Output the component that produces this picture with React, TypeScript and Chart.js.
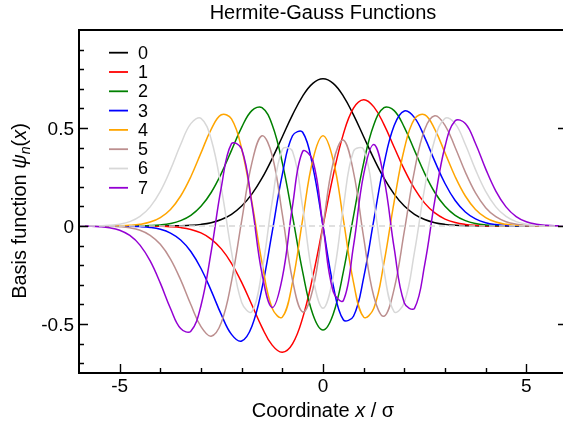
import React, { useEffect, useRef } from "react";
import { Chart, registerables } from "chart.js";

Chart.register(...registerables);

// ---------- data ----------
const xValues = [
  -6, -5.75, -5.5, -5.25, -5, -4.75, -4.5, -4.25, -4, -3.75, -3.5, -3.25, -3,
  -2.75, -2.5, -2.25, -2, -1.75, -1.5, -1.25, -1, -0.75, -0.5, -0.25, 0, 0.25,
  0.5, 0.75, 1, 1.25, 1.5, 1.75, 2, 2.25, 2.5, 2.75, 3, 3.25, 3.5, 3.75, 4, 4.25,
  4.5, 4.75, 5, 5.25, 5.5, 5.75, 6,
];

const psi0 = [
  0, 0, 0, 0, 0, 0, 0, 0.0001, 0.0003, 0.0007, 0.0016, 0.0038, 0.0083, 0.0171,
  0.033, 0.0598, 0.1017, 0.1624, 0.2439, 0.3439, 0.4556, 0.567, 0.6629, 0.728,
  0.7511, 0.728, 0.6629, 0.567, 0.4556, 0.3439, 0.2439, 0.1624, 0.1017, 0.0598,
  0.033, 0.0171, 0.0083, 0.0038, 0.0016, 0.0007, 0.0003, 0.0001, 0, 0, 0, 0, 0, 0, 0,
];
const psi1 = [
  0, 0, 0, 0, 0, -0.0001, -0.0002, -0.0005, -0.0014, -0.0035, -0.0081, -0.0176,
  -0.0354, -0.0666, -0.1167, -0.1902, -0.2875, -0.402, -0.5173, -0.6079, -0.6443,
  -0.6014, -0.4687, -0.2574, 0, 0.2574, 0.4687, 0.6014, 0.6443, 0.6079, 0.5173,
  0.402, 0.2875, 0.1902, 0.1167, 0.0666, 0.0354, 0.0176, 0.0081, 0.0035, 0.0014,
  0.0005, 0.0002, 0.0001, 0, 0, 0, 0, 0,
];
const psi2 = [
  0, 0, 0, 0, 0.0001, 0.0003, 0.0008, 0.0022, 0.0055, 0.0127, 0.0273, 0.0544,
  0.1003, 0.171, 0.2684, 0.3856, 0.5032, 0.5887, 0.6035, 0.5167, 0.3221, 0.0501,
  -0.2344, -0.4504, -0.5311, -0.4504, -0.2344, 0.0501, 0.3221, 0.5167, 0.6035,
  0.5887, 0.5032, 0.3856, 0.2684, 0.171, 0.1003, 0.0544, 0.0273, 0.0127, 0.0055,
  0.0022, 0.0008, 0.0003, 0.0001, 0, 0, 0, 0,
];
const psi3 = [
  0, 0, 0, -0.0001, -0.0004, -0.0011, -0.0029, -0.0073, -0.0169, -0.0361, -0.0714,
  -0.1299, -0.2168, -0.3296, -0.4525, -0.5531, -0.5869, -0.5129, -0.3168, -0.031,
  0.263, 0.4603, 0.4784, 0.3021, 0, -0.3021, -0.4784, -0.4603, -0.263, 0.031,
  0.3168, 0.5129, 0.5869, 0.5531, 0.4525, 0.3296, 0.2168, 0.1299, 0.0714, 0.0361,
  0.0169, 0.0073, 0.0029, 0.0011, 0.0004, 0.0001, 0, 0, 0,
];
const psi4 = [
  0, 0, 0.0001, 0.0004, 0.0013, 0.0034, 0.0086, 0.02, 0.043, 0.0847, 0.153, 0.2515,
  0.373, 0.4928, 0.5676, 0.5461, 0.3943, 0.1249, -0.1867, -0.4201, -0.465, -0.2875,
  0.0338, 0.3367, 0.46, 0.3367, 0.0338, -0.2875, -0.465, -0.4201, -0.1867, 0.1249,
  0.3943, 0.5461, 0.5676, 0.4928, 0.373, 0.2515, 0.153, 0.0847, 0.043, 0.02,
  0.0086, 0.0034, 0.0013, 0.0004, 0.0001, 0, 0,
];
const psi5 = [
  0, -0.0001, -0.0004, -0.0013, -0.0036, -0.0093, -0.0219, -0.0473, -0.0936,
  -0.1687, -0.2749, -0.4007, -0.5138, -0.5623, -0.4926, -0.2824, 0.0262, 0.3205,
  0.4604, 0.3598, 0.0588, -0.2753, -0.4386, -0.3234, 0, 0.3234, 0.4386, 0.2753,
  -0.0588, -0.3598, -0.4604, -0.3205, -0.0262, 0.2824, 0.4926, 0.5623, 0.5138,
  0.4007, 0.2749, 0.1687, 0.0936, 0.0473, 0.0219, 0.0093, 0.0036, 0.0013, 0.0004,
  0.0001, 0,
];
const psi6 = [
  0.0001, 0.0004, 0.0013, 0.0036, 0.0094, 0.0224, 0.0489, 0.0977, 0.1768, 0.2878,
  0.4158, 0.5224, 0.5495, 0.443, 0.1929, -0.1317, -0.3902, -0.4379, -0.2283,
  0.1238, 0.3905, 0.3817, 0.0957, -0.2607, -0.4199, -0.2607, 0.0957, 0.3817,
  0.3905, 0.1238, -0.2283, -0.4379, -0.3902, -0.1317, 0.1929, 0.443, 0.5495,
  0.5224, 0.4158, 0.2878, 0.1768, 0.0977, 0.0489, 0.0224, 0.0094, 0.0036, 0.0013,
  0.0004, 0.0001,
];
const psi7 = [
  -0.0004, -0.0012, -0.0034, -0.0089, -0.0216, -0.0482, -0.0975, -0.1782, -0.2915,
  -0.4207, -0.5234, -0.5364, -0.4054, -0.1305, 0.1983, 0.4198, 0.3928, 0.1128,
  -0.2432, -0.4159, -0.2632, 0.1019, 0.3805, 0.3343, 0, -0.3343, -0.3805, -0.1019,
  0.2632, 0.4159, 0.2432, -0.1128, -0.3928, -0.4198, -0.1983, 0.1305, 0.4054,
  0.5364, 0.5234, 0.4207, 0.2915, 0.1782, 0.0975, 0.0482, 0.0216, 0.0089, 0.0034,
  0.0012, 0.0004,
];

const seriesValues = [psi0, psi1, psi2, psi3, psi4, psi5, psi6, psi7];
const seriesNames = ["0", "1", "2", "3", "4", "5", "6", "7"];
const seriesColors = [
  "#000000",
  "#ff0000",
  "#008000",
  "#0000ff",
  "#ffa500",
  "#bc8f8f",
  "#d8d8d8",
  "#9400d3",
];

const xMajorTicks = [-5, 0, 5];
const xTickLabels = ["-5", "0", "5"];
const xMinorTicks = [-4, -3, -2, -1, 1, 2, 3, 4];
const yMajorTicks = [-0.5, 0, 0.5];
const yTickLabels = ["-0.5", "0", "0.5"];
const yMinorTicks = [-0.7, -0.6, -0.4, -0.3, -0.2, -0.1, 0.1, 0.2, 0.3, 0.4, 0.6, 0.7, 0.8, 0.9];

const titleText = "Hermite-Gauss Functions";

// ---------- drawing ----------
const FONT = "'Liberation Sans', Arial, Helvetica, sans-serif";

function font(size: number, italic = false) {
  return `${italic ? "italic " : ""}${size}px ${FONT}`;
}

function drawRuns(
  ctx: CanvasRenderingContext2D,
  runs: { t: string; size: number; italic?: boolean; dy?: number }[],
  cx: number,
  baseline: number
) {
  let total = 0;
  for (const r of runs) {
    ctx.font = font(r.size, r.italic);
    total += ctx.measureText(r.t).width;
  }
  let x = cx - total / 2;
  ctx.textAlign = "left";
  ctx.textBaseline = "alphabetic";
  for (const r of runs) {
    ctx.font = font(r.size, r.italic);
    ctx.fillText(r.t, x, baseline + (r.dy || 0));
    x += ctx.measureText(r.t).width;
  }
}

const decorPlugin = {
  id: "decor",
  afterDatasetsDraw(chart: any) {
    const { ctx, chartArea: a, scales } = chart;
    const y0 = scales.y.getPixelForValue(0);
    ctx.save();
    ctx.beginPath();
    ctx.rect(a.left, a.top, a.right - a.left, a.bottom - a.top);
    ctx.clip();
    ctx.strokeStyle = "#d6d6d6";
    ctx.lineWidth = 1.5;
    ctx.setLineDash([6, 4]);
    ctx.beginPath();
    ctx.moveTo(a.left, y0);
    ctx.lineTo(a.right, y0);
    ctx.stroke();
    ctx.restore();
  },
  afterDraw(chart: any) {
    const { ctx, chartArea: a, scales } = chart;
    const xs = scales.x;
    const ys = scales.y;
    ctx.save();
    ctx.strokeStyle = "#000";
    ctx.fillStyle = "#000";

    // frame: left, bottom, top (right edge falls outside the visible window)
    ctx.lineWidth = 2;
    ctx.beginPath();
    ctx.moveTo(a.left, a.top);
    ctx.lineTo(a.right + 2, a.top);
    ctx.moveTo(a.left, a.top - 1);
    ctx.lineTo(a.left, a.bottom + 1);
    ctx.moveTo(a.left - 1, a.bottom);
    ctx.lineTo(a.right + 2, a.bottom);
    ctx.stroke();

    // ticks (inward)
    ctx.lineWidth = 1.4;
    ctx.beginPath();
    for (const v of xMajorTicks) {
      const p = Math.round(xs.getPixelForValue(v)) + 0.5;
      ctx.moveTo(p, a.bottom);
      ctx.lineTo(p, a.bottom - 9);
    }
    for (const v of xMinorTicks) {
      const p = Math.round(xs.getPixelForValue(v)) + 0.5;
      ctx.moveTo(p, a.bottom);
      ctx.lineTo(p, a.bottom - 5);
    }
    for (const v of yMajorTicks) {
      const p = Math.round(ys.getPixelForValue(v)) + 0.5;
      ctx.moveTo(a.left, p);
      ctx.lineTo(a.left + 9, p);
      ctx.moveTo(a.right, p);
      ctx.lineTo(a.right - 9, p);
    }
    for (const v of yMinorTicks) {
      const p = Math.round(ys.getPixelForValue(v)) + 0.5;
      ctx.moveTo(a.left, p);
      ctx.lineTo(a.left + 5, p);
    }
    ctx.stroke();

    // tick labels
    ctx.font = font(19);
    ctx.textAlign = "center";
    ctx.textBaseline = "alphabetic";
    xMajorTicks.forEach((v, i) => {
      ctx.fillText(xTickLabels[i], xs.getPixelForValue(v), a.bottom + 19);
    });
    ctx.textAlign = "right";
    ctx.textBaseline = "middle";
    yMajorTicks.forEach((v, i) => {
      ctx.fillText(yTickLabels[i], a.left - 5, ys.getPixelForValue(v) + 1.5);
    });

    // title
    const cx = (a.left + a.right) / 2;
    drawRuns(ctx, [{ t: titleText, size: 20 }], cx, 19);

    // x axis title
    drawRuns(
      ctx,
      [
        { t: "Coordinate ", size: 20 },
        { t: "x", size: 20, italic: true },
        { t: " / σ", size: 20 },
      ],
      cx,
      417
    );

    // y axis title
    ctx.save();
    ctx.translate(26, 211);
    ctx.rotate(-Math.PI / 2);
    drawRuns(
      ctx,
      [
        { t: "Basis function ", size: 20 },
        { t: "ψ", size: 20, italic: true },
        { t: "n", size: 14, italic: true, dy: 4 },
        { t: "(", size: 20 },
        { t: "x", size: 20, italic: true },
        { t: ")", size: 20 },
      ],
      0,
      0
    );
    ctx.restore();

    // legend
    ctx.font = font(18);
    ctx.textAlign = "left";
    ctx.textBaseline = "middle";
    seriesNames.forEach((name, i) => {
      const y = a.top + 22.7 + i * 19.3;
      ctx.strokeStyle = seriesColors[i];
      ctx.lineWidth = 1.8;
      ctx.beginPath();
      ctx.moveTo(a.left + 30, y);
      ctx.lineTo(a.left + 49, y);
      ctx.stroke();
      ctx.fillStyle = "#000";
      ctx.fillText(name, a.left + 59, y + 1);
    });

    ctx.restore();
  },
};

export default function App() {
  const ref = useRef<HTMLCanvasElement | null>(null);

  useEffect(() => {
    if (!ref.current) return;
    const datasets = seriesValues.map((vals, i) => ({
      label: seriesNames[i],
      data: vals.map((v, j) => ({ x: xValues[j], y: v })),
      borderColor: seriesColors[i],
      backgroundColor: seriesColors[i],
      borderWidth: 1.5,
      pointRadius: 0,
      tension: 0.4,
      fill: false,
      order: seriesValues.length - i,
    }));
    const chart = new Chart(ref.current, {
      type: "line",
      data: { datasets },
      options: {
        responsive: false,
        animation: false,
        devicePixelRatio: 1,
        layout: { padding: { left: 79, top: 30, right: 4, bottom: 48 } },
        scales: {
          x: { type: "linear", min: -6, max: 6, display: false },
          y: { type: "linear", min: -0.75, max: 1.0, display: false },
        },
        plugins: {
          legend: { display: false },
          title: { display: false },
          tooltip: { enabled: false },
        },
        events: [],
      },
      plugins: [decorPlugin],
    });
    return () => chart.destroy();
  }, []);

  return (
    <div
      style={{
        position: "fixed",
        left: 0,
        top: 0,
        width: 563,
        height: 421,
        overflow: "hidden",
        background: "#fff",
      }}
    >
      <canvas ref={ref} width={571} height={421} style={{ display: "block" }} />
    </div>
  );
}
